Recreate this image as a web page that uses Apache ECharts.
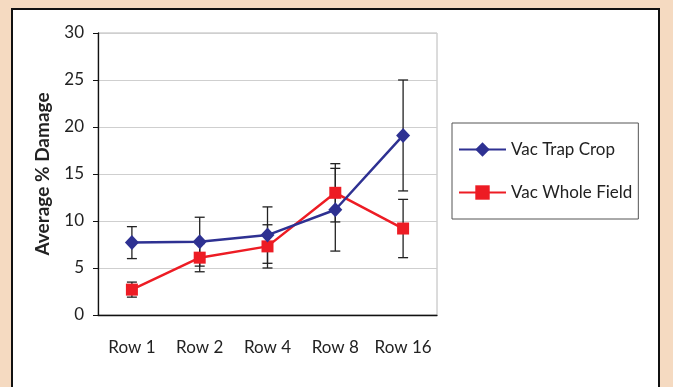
<!DOCTYPE html>
<html>
<head>
<meta charset="utf-8">
<script src="https://cdn.jsdelivr.net/npm/echarts@6/dist/echarts.min.js"></script>
<style>
  html, body { margin: 0; padding: 0; background: #f5dac1; }
  #chart { width: 673px; height: 387px; }
</style>
</head>
<body>
<div id="chart"></div>
<script>
const CATEGORIES = ['Row 1', 'Row 2', 'Row 4', 'Row 8', 'Row 16'];
const TRAP_CROP = [7.7, 7.8, 8.5, 11.2, 19.1];
const TRAP_CROP_ERR = [1.7, 2.6, 3.0, 4.4, 5.9];
const WHOLE_FIELD = [2.7, 6.1, 7.3, 13.0, 9.2];
const WHOLE_FIELD_ERR = [0.8, 1.5, 2.3, 3.1, 3.1];

const FONT = 'Lato';
const BLUE = '#2e3192';
const RED = '#ed1c24';

// error bar data: [category index, low, high]
function errData(vals, errs) {
    return vals.map((v, i) => [i, v - errs[i], v + errs[i]]);
}

function renderErr(params, api) {
    const x = api.value(0);
    const lo = api.coord([x, api.value(1)]);
    const hi = api.coord([x, api.value(2)]);
    const half = 5;
    const style = { stroke: '#222', lineWidth: 1.3 };
    return {
        type: 'group',
        children: [
            { type: 'line', shape: { x1: hi[0], y1: hi[1], x2: lo[0], y2: lo[1] }, style },
            { type: 'line', shape: { x1: hi[0] - half, y1: hi[1], x2: hi[0] + half, y2: hi[1] }, style },
            { type: 'line', shape: { x1: lo[0] - half, y1: lo[1], x2: lo[0] + half, y2: lo[1] }, style },
        ],
    };
}

const chart = echarts.init(document.getElementById('chart'));

chart.setOption({
    animation: false,
    textStyle: { fontFamily: FONT },
    graphic: [{
        type: 'rect',
        shape: { x: 12, y: 9, width: 647, height: 400 },
        style: { fill: '#fff', stroke: '#111', lineWidth: 2 },
        z: -10,
    }],
    grid: {
        left: 98, top: 33, right: 236, bottom: 72,
        show: true, borderColor: '#b8b8b8', borderWidth: 1,
    },
    legend: {
        orient: 'vertical',
        left: 452, top: 123,
        padding: [18, 6, 18, 6],
        itemGap: 26,
        itemWidth: 47,
        itemHeight: 18,
        borderColor: '#555',
        borderWidth: 1,
        textStyle: { fontFamily: FONT, fontSize: 17, color: '#222' },
        data: ['Vac Trap Crop', 'Vac Whole Field'],
    },
    xAxis: {
        type: 'category',
        data: CATEGORIES,
        boundaryGap: true,
        axisLine: { lineStyle: { color: '#111', width: 1.3 } },
        axisTick: { length: 6, lineStyle: { color: '#111' } },
        axisLabel: { color: '#222', fontSize: 17, margin: 24, interval: 0 },
    },
    yAxis: {
        type: 'value',
        min: 0, max: 30, interval: 5,
        name: 'Average % Damage',
        nameLocation: 'middle',
        nameGap: 46,
        nameTextStyle: { fontFamily: FONT, fontSize: 19, fontWeight: 'bold', color: '#222' },
        axisLine: { show: true, lineStyle: { color: '#111', width: 1.3 } },
        axisTick: { show: true, length: 5, lineStyle: { color: '#111' } },
        axisLabel: { color: '#222', fontSize: 17, margin: 14 },
        splitLine: { lineStyle: { color: '#cfcfcf', width: 1.2 } },
    },
    series: [
        {
            type: 'custom',
            name: 'trapErr',
            renderItem: renderErr,
            data: errData(TRAP_CROP, TRAP_CROP_ERR),
            z: 1,
            silent: true,
        },
        {
            type: 'custom',
            name: 'wholeErr',
            renderItem: renderErr,
            data: errData(WHOLE_FIELD, WHOLE_FIELD_ERR),
            z: 1,
            silent: true,
        },
        {
            type: 'line',
            name: 'Vac Trap Crop',
            data: TRAP_CROP,
            symbol: 'diamond',
            symbolSize: [14, 15],
            color: BLUE,
            lineStyle: { color: BLUE, width: 2.5 },
            itemStyle: { color: BLUE },
            z: 3,
        },
        {
            type: 'line',
            name: 'Vac Whole Field',
            data: WHOLE_FIELD,
            symbol: 'rect',
            symbolSize: 12,
            color: RED,
            lineStyle: { color: RED, width: 2.5 },
            itemStyle: { color: RED },
            z: 2,
        },
    ],
});
</script>
</body>
</html>
